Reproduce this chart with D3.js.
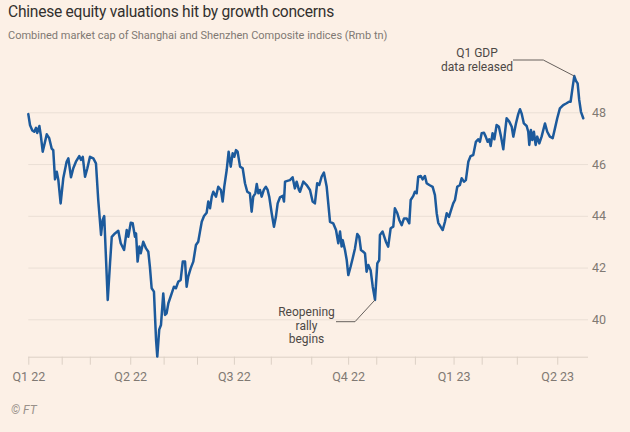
<!DOCTYPE html>
<html>
<head>
<meta charset="utf-8">
<script src="https://cdn.jsdelivr.net/npm/d3@7"></script>
<style>
  html, body { margin: 0; padding: 0; background: #fcf0e6; }
  svg { display: block; }
</style>
</head>
<body>
<svg id="chart" width="630" height="432"></svg>
<script>
// ---- data: trading-day position since 4 Jan 2022, combined market cap (Rmb tn)
const tradingDay = [
  0,1,2.3,3.4,4.4,5.1,6.3,7.1,8.2,9.1,10.5,11.9,13.3,14.2,15.2,16.2,17.1,18.4,19.9,21.8,
  22.8,24.3,25.6,27.1,29.0,30.0,31.0,32.3,33.6,35.1,37.0,38.5,39.8,41.4,42.3,43.2,45.2,46.5,47.5,49.3,
  51.2,52.6,54.5,56.0,56.9,58.3,59.4,60.7,61.3,62.2,63.2,64.0,65.4,67.0,68.3,69.2,70.2,71.5,72.7,73.4,
  74.5,75.5,76.8,77.8,78.7,79.7,81.6,82.9,84.0,85.3,86.7,87.9,89.2,90.1,91.0,92.4,93.9,95.4,96.7,97.7,
  98.7,100.0,101.5,102.4,103.4,104.4,105.3,106.8,108.1,109.6,110.6,111.5,112.9,114.0,115.2,116.3,117.2,118.2,119.1,120.5,
  122.0,123.3,124.6,126.1,127.1,128.0,129.2,130.0,130.9,131.8,132.8,134.1,135.2,136.2,137.1,138.5,139.8,140.9,141.9,143.2,
  144.8,145.5,146.1,147.9,148.9,150.4,151.7,152.7,154.0,154.6,156.5,158.4,160.3,161.8,163.1,164.4,165.6,166.9,168.2,169.8,
  170.7,171.7,173.5,175.1,176.4,177.4,178.3,178.9,180.2,181.2,182.1,183.4,184.6,185.9,187.2,188.3,189.3,190.6,191.6,192.5,
  193.5,194.8,196.0,197.3,198.6,199.7,200.1,201.6,203.5,204.8,206.2,207.7,208.6,210.0,211.1,212.5,213.8,215.3,216.8,217.6,
  219.1,220.0,221.0,221.9,223.3,224.4,225.7,226.7,228.2,230.1,231.4,232.4,233.3,234.6,235.8,237.1,238.1,239.4,240.3,241.8,
  242.8,244.1,245.6,246.6,247.9,249.0,250.4,251.7,253.2,254.7,256.0,257.0,258.0,259.3,260.3,261.4,262.3,263.1,264.2,265.2,
  266.5,267.8,269.0,270.3,271.2,272.2,273.7,275.1,276.0,277.5,278.8,279.8,280.7,282.0,283.6,284.5,285.1,286.0,286.8,287.7,
  288.7,289.6,290.8,292.1,294.0,295.3,296.8,298.4,299.7,301.0,302.5,304.4,306.3,307.7,308.6,309.8,310.7,311.6,312.6,313.5,
  314.5,315.8
];
const marketCap = [
  47.93,47.5,47.3,47.25,47.4,47.2,47.47,47.12,46.48,46.74,47.15,47.0,46.6,46.54,45.41,45.7,45.38,44.48,45.45,46.09,
  46.22,45.49,45.84,46.09,46.31,46.16,46.28,45.51,45.84,46.28,46.22,46.03,44.61,43.26,43.84,43.99,40.75,42.16,43.19,43.32,
  43.42,42.94,42.68,43.45,43.19,43.73,43.71,43.19,43.32,42.23,42.81,42.55,43.0,42.74,42.61,42.03,41.2,41.07,39.2,38.56,
  39.6,39.78,41.0,40.17,40.23,40.62,41.0,41.26,41.2,41.45,41.52,42.23,42.23,41.26,41.65,41.97,42.23,42.87,43.0,43.39,
  43.77,43.99,44.12,44.55,44.29,44.74,44.93,44.74,45.12,45.0,44.55,45.12,45.77,46.48,45.9,46.42,46.28,46.54,46.48,45.9,
  45.84,45.26,44.93,44.87,44.16,44.74,44.87,45.23,44.87,45.0,44.74,45.02,45.12,45.0,44.74,44.1,43.58,43.96,44.48,44.71,
  44.77,44.55,45.32,45.36,45.38,45.49,45.06,45.32,45.0,44.93,45.32,45.19,45.0,44.55,44.48,45.26,45.19,45.51,45.67,45.12,
  44.48,43.77,43.71,43.45,42.94,43.39,42.81,43.06,42.68,42.29,41.71,42.03,42.36,42.74,43.3,43.19,42.68,42.61,42.55,41.84,
  42.1,41.9,41.26,40.75,42.16,42.29,43.26,43.39,43.0,42.81,43.52,43.58,44.29,44.1,43.84,43.64,43.9,43.9,43.71,44.61,
  44.77,44.93,44.87,45.51,45.54,45.41,45.54,45.26,45.19,45.12,44.8,44.1,43.73,43.58,43.45,43.77,44.1,43.96,44.16,44.48,
  44.61,45.12,45.19,45.45,45.32,45.38,46.09,46.31,46.35,46.86,46.96,46.86,47.19,47.21,47.06,46.86,46.96,46.7,47.19,46.96,
  47.51,47.44,47.06,46.57,47.19,47.77,47.64,47.44,47.06,47.57,47.93,48.12,47.96,47.57,47.47,47.25,46.74,47.32,46.93,47.25,
  46.74,47.06,46.8,47.06,47.57,47.25,47.06,47.0,47.38,47.77,48.15,48.28,48.35,48.41,48.41,48.99,49.4,49.22,49.12,48.48,
  48.02,47.77
];
// month-start trading-day positions and quarter labels
const monthTicks = [0,19,35,58,77,96,117,138,161,182,198,220,242,258,278,301];
const quarterTicks = [0,58,117,182,242,301];
const quarterLabels = ["Q1 22","Q2 22","Q3 22","Q4 22","Q1 23","Q2 23"];
const yTicks = [40,42,44,46,48];

const title = "Chinese equity valuations hit by growth concerns";
const subtitle = "Combined market cap of Shanghai and Shenzhen Composite indices (Rmb tn)";
const noteGdp = ["Q1 GDP","data released"];
const noteReopen = ["Reopening","rally","begins"];
const gdpDay = 310.7, gdpValue = 49.4;
const reopenDay = 197.3, reopenValue = 40.75;

(function draw() {
  const svg = d3.select("#chart");
  const FONT = "Roboto, 'Open Sans', sans-serif";
  const L = 28.3, R = 588, T = 73.5, B = 356.7;

  const x = d3.scaleLinear().domain([0, 318.5]).range([L, R]);
  const y = d3.scaleLinear().domain([38.555, 49.5]).range([B, T]);

  svg.append("rect").attr("width", 630).attr("height", 432).attr("fill", "#fcf0e6");

  svg.append("text").attr("x", 8).attr("y", 17.3)
    .attr("font-family", FONT).attr("font-size", 15.6).attr("letter-spacing", -0.25)
    .attr("fill", "#33302e")
    .text(title);
  svg.append("text").attr("x", 8).attr("y", 39.3)
    .attr("font-family", FONT).attr("font-size", 11).attr("fill", "#807973")
    .text(subtitle);

  // grid lines + y labels
  const yAxis = d3.axisRight(y).tickValues(yTicks).tickSize(R - L).tickFormat(d3.format("d"));
  const gy = svg.append("g").attr("transform", `translate(${L},0)`).call(yAxis);
  gy.select(".domain").remove();
  gy.selectAll(".tick line").attr("stroke", "#eadfd5").attr("stroke-width", 1);
  gy.selectAll(".tick text").attr("x", R - L + 4).attr("dy", "0.32em")
    .attr("font-family", FONT).attr("font-size", 12.5).attr("fill", "#807973");

  // x axis
  const xAxis = d3.axisBottom(x).tickValues(monthTicks).tickSize(8).tickFormat(() => "");
  const gx = svg.append("g").attr("transform", `translate(0,${B})`).call(xAxis);
  gx.select(".domain").attr("d", `M${L},0.5H${R}`).attr("stroke", "#dcd0c5");
  gx.selectAll(".tick line").attr("stroke", "#dcd0c5");

  const gq = svg.append("g").attr("transform", `translate(0,${B})`)
    .call(d3.axisBottom(x).tickValues(quarterTicks).tickSize(0)
      .tickFormat((d, i) => quarterLabels[i]));
  gq.select(".domain").remove();
  gq.selectAll(".tick text").attr("y", 15.5).attr("dy", "0.71em")
    .attr("font-family", FONT).attr("font-size", 12.5).attr("fill", "#807973");

  // line
  const pts = tradingDay.map((d, i) => [d, marketCap[i]]);
  svg.append("path").datum(pts)
    .attr("fill", "none").attr("stroke", "#1c5a9c").attr("stroke-width", 2.5)
    .attr("stroke-linejoin", "round").attr("stroke-linecap", "round")
    .attr("d", d3.line().x(d => x(d[0])).y(d => y(d[1])));

  // annotations
  const ann = svg.append("g").attr("font-family", FONT).attr("font-size", 12).attr("fill", "#4d4845");
  const gx0 = x(gdpDay), gy0 = y(gdpValue);
  svg.append("path").attr("fill", "none").attr("stroke", "#66605c").attr("stroke-width", 1)
    .attr("d", `M${gx0},${gy0}L${gx0 - 31},60H513`);
  ann.selectAll("text.gdp").data(noteGdp).join("text").attr("class", "gdp")
    .attr("x", 477).attr("y", (d, i) => 57 + i * 14).attr("text-anchor", "middle").text(d => d);

  const rx0 = x(reopenDay), ry0 = y(reopenValue);
  svg.append("path").attr("fill", "none").attr("stroke", "#66605c").attr("stroke-width", 1)
    .attr("d", `M${rx0},${ry0}L${rx0 - 20},321.7H336`);
  ann.selectAll("text.reo").data(noteReopen).join("text").attr("class", "reo")
    .attr("x", 306.5).attr("y", (d, i) => 316 + i * 13.5).attr("text-anchor", "middle").text(d => d);

  svg.append("text").attr("x", 11).attr("y", 414)
    .attr("font-family", FONT).attr("font-size", 12).attr("font-style", "italic")
    .attr("fill", "#99918a").text("© FT");
})();
</script>
</body>
</html>
